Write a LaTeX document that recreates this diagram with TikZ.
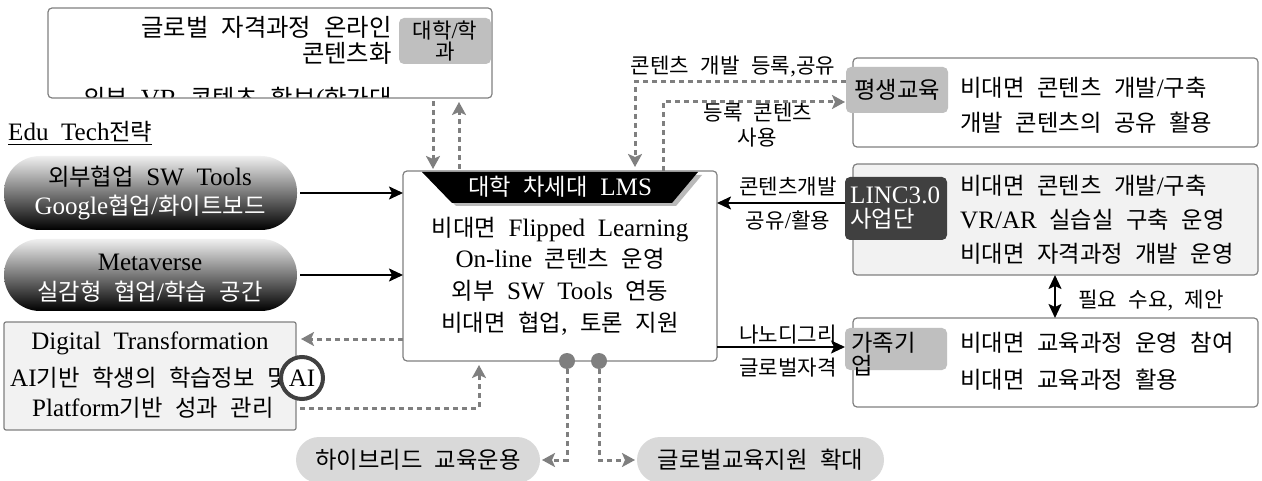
\documentclass[tikz,border=0pt]{standalone}
\usepackage{fontspec}
\setmainfont{Liberation Serif}[Scale=1.14,WordSpace=2.0]
\newfontfamily\kr{Noto Sans CJK KR}[Scale=1.06]
\usetikzlibrary{arrows.meta,calc}
\XeTeXinterchartokenstate=1
\newXeTeXintercharclass\HangulCls
\newcount\hcnt
\hcnt="AC00
\loop\XeTeXcharclass\hcnt=\HangulCls\relax\advance\hcnt by 1\relax\ifnum\hcnt<"D7A4\relax\repeat
\XeTeXinterchartoks 0 \HangulCls = {\kr}
\XeTeXinterchartoks 4095 \HangulCls = {\kr}
\XeTeXinterchartoks \HangulCls 0 = {\rmfamily}
\XeTeXinterchartoks \HangulCls 4095 = {\rmfamily}
\definecolor{bord}{HTML}{808080}
\definecolor{tagg}{HTML}{BFBFBF}
\definecolor{dotc}{HTML}{7F7F7F}
\definecolor{lgray}{HTML}{F2F2F2}
\definecolor{dark}{HTML}{404040}
\definecolor{pillg}{HTML}{D9D9D9}
\begin{document}
\begin{tikzpicture}[x=1pt,y=-1pt,
  box/.style={draw=bord, line width=1.2pt, rounded corners=4pt, inner sep=0pt, outer sep=0pt},
  tagbox/.style={fill=tagg, rounded corners=5pt, inner sep=0pt, outer sep=0pt},
  txt/.style={font=\fontsize{22}{32}\selectfont, inner sep=0pt},
  lab/.style={font=\fontsize{20}{24}\selectfont, inner sep=0pt},
  pill/.style={rounded corners=36pt, inner sep=0pt, outer sep=0pt},
  spill/.style={fill=pillg, rounded corners=23pt, inner sep=0pt, outer sep=0pt, minimum height=46pt, font=\fontsize{22}{26}\selectfont},
  dotarr/.style={draw=dotc, line width=3pt, dash pattern=on 5pt off 4pt, -{Stealth[length=13pt,width=14pt,inset=3pt]}},
  solarr/.style={draw=black, line width=2pt, -{Stealth[length=14pt,width=13pt,inset=3pt]}}
]
\useasboundingbox (0,0) rectangle (1262,481);

% ---- top box
\node[txt, anchor=east, font=\fontsize{23}{30}\selectfont] (t1) at (392,27) {글로벌 자격과정 온라인};
\node[txt, anchor=east, font=\fontsize{23}{30}\selectfont] (t2) at (392,53) {콘텐츠화};
\begin{scope}
\clip[rounded corners=4pt] (48,8) rectangle (492,98);
\node[txt, anchor=east, font=\fontsize{23}{30}\selectfont] (t3) at (392,100) {외부 VR 콘텐츠 확보(한가대};
\end{scope}
\node[box, minimum width=444pt, minimum height=90pt] (topbox) at (270,53) {};
\node[tagbox, minimum width=92pt, minimum height=46pt, align=center, font=\fontsize{20}{21}\selectfont] (tagU) at (445,41) {대학/학\\과};

% ---- Edu tech
\node[txt, anchor=west] (edu) at (8,133) {\underline{Edu Tech전략}};

% ---- LMS
\node[box, fill=white, minimum width=314pt, minimum height=190pt] (lms) at (560,266) {};
\fill[gray!55] (426,175) -- (702,175) -- (676,206) -- (456,206) -- cycle;
\fill[black] (422,172) -- (698,172) -- (672,203) -- (452,203) -- cycle;
\node[txt, text=white] (lmsh) at (560,187) {대학 차세대 LMS};
\node[txt, align=center, font=\fontsize{22}{31.7}\selectfont] (lmsb) at (560,276) {비대면 Flipped Learning\\On-line 콘텐츠 운영\\외부 SW Tools 연동\\비대면 협업, 토론 지원};
\node[circle, fill=dotc, minimum size=16pt, inner sep=0pt] (dA) at (567,361) {};
\node[circle, fill=dotc, minimum size=16pt, inner sep=0pt] (dB) at (599,361) {};

% ---- left pills
\node[pill, top color=gray!12, bottom color=black, minimum width=293pt, minimum height=74pt] (p1) at (150.5,193) {};
\node[txt] (p1a) at (150,177) {외부협업 SW Tools};
\node[txt, text=white] (p1b) at (150,207) {Google협업/화이트보드};
\node[pill, top color=gray!12, bottom color=black, minimum width=293pt, minimum height=72pt] (p2) at (150.5,275) {};
\node[txt] (p2a) at (150,262) {Metaverse};
\node[txt, text=white] (p2b) at (150,292) {실감형 협업/학습 공간};
\draw[solarr, shorten <=3pt] (p1.east) -- (p1.east -| lms.west);
\draw[solarr, shorten <=3pt] (p2.east) -- (p2.east -| lms.west);

% ---- top dotted
\coordinate (xa) at (433,0);
\coordinate (xb) at (459,0);
\draw[dotarr, shorten <=3pt, shorten >=2pt] (topbox.south -| xa) -- (lms.north -| xa);
\draw[dotarr, shorten <=2pt, shorten >=4pt] (lms.north -| xb) -- (topbox.south -| xb);

% ---- DT box
\node[box, fill=lgray, rounded corners=2pt, minimum width=292pt, minimum height=108pt] (dt) at (150,376) {};
\node[txt] (dt1) at (150,343) {Digital Transformation};
\node[txt, anchor=west] (dt2) at (10,378) {AI기반 학생의 학습정보 및};
\node[txt] (dt3) at (153,408) {Platform기반 성과 관리};
\node[txt, circle, draw=dark, line width=4pt, fill=white, minimum size=42pt, inner sep=0pt] (ai) at (302,378) {AI};
\coordinate (y1) at (0,339);
\draw[dotarr, shorten >=5pt] (lms.west |- y1) -- (dt.east |- y1);
\coordinate (y2) at (0,408);
\coordinate (x3) at (479,0);
\draw[dotarr, shorten <=4pt, shorten >=4pt] (dt.east |- y2) -| (lms.south -| x3);

% ---- bottom pills
\node[spill, minimum width=244pt] (hy) at (418,460) {하이브리드 교육운용};
\node[spill, minimum width=247pt] (gl) at (760.5,460) {글로벌교육지원 확대};
\draw[dotarr, shorten >=2pt] (dA.south) |- (hy.east);
\draw[dotarr, shorten >=2pt] (dB.south) |- (gl.west);

% ---- right: lifelong education
\node[box, fill=white, minimum width=405pt, minimum height=89pt] (pb) at (1055.5,102.5) {};
\node[tagbox, txt, minimum width=102pt, minimum height=46pt] (pt) at (897,90) {평생교육};
\node[txt, anchor=west, align=left, font=\fontsize{22}{35}\selectfont] (pbt) at (960,105.5) {비대면 콘텐츠 개발/구축\\개발 콘텐츠의 공유 활용};
\coordinate (y3) at (0,82);
\coordinate (x4) at (635,0);
\draw[dotarr, shorten >=4pt] (pt.west |- y3) -| (lms.north -| x4);
\coordinate (y4) at (0,102);
\coordinate (x5) at (663,0);
\draw[dotarr, shorten >=1pt] (lms.north -| x5) |- (pt.west |- y4);
\node[lab] (l1) at (733,66) {콘텐츠 개발 등록,공유};
\node[lab] (l2) at (758,113) {등록 콘텐츠};
\node[lab] (l3) at (757,138) {사용};

% ---- right: LINC
\node[box, fill=lgray, minimum width=405pt, minimum height=111pt] (lb) at (1055.5,219.5) {};
\node[tagbox, fill=dark, minimum width=102pt, minimum height=63pt] (lt) at (896,208.5) {};
\node[txt, text=white, anchor=west, align=left, font=\fontsize{22}{24}\selectfont] (ltt) at (850,208) {LINC3.0\\사업단};
\node[txt, anchor=west, align=left, font=\fontsize{22}{34}\selectfont] (lbt) at (960,220) {비대면 콘텐츠 개발/구축\\VR/AR 실습실 구축 운영\\비대면 자격과정 개발 운영};
\coordinate (ya) at (0,203);
\draw[solarr] (lt.west |- ya) -- (lms.east |- ya);
\node[lab] (la1) at (788,187) {콘텐츠개발};
\node[lab] (la2) at (788,220) {공유/활용};

% ---- right: family company
\node[box, fill=white, minimum width=405pt, minimum height=89pt] (fb) at (1055.5,362.5) {};
\node[tagbox, minimum width=102pt, minimum height=42pt] (ft) at (896,349) {};
\node[txt, anchor=west, align=left, font=\fontsize{22}{23}\selectfont] (ftt) at (851,354) {가족기\\업};
\node[txt, anchor=west, align=left, font=\fontsize{22}{37}\selectfont] (fbt) at (960,361.5) {비대면 교육과정 운영 참여\\비대면 교육과정 활용};
\coordinate (yb) at (0,347);
\draw[solarr] (lms.east |- yb) -- (ft.west |- yb);
\node[lab] (lb1) at (788,335) {나노디그리};
\node[lab] (lb2) at (788,368) {글로벌자격};
\coordinate (xc) at (1055,0);
\draw[solarr, {Stealth[length=14pt,width=13pt,inset=3pt]}-{Stealth[length=14pt,width=13pt,inset=3pt]}] (lb.south -| xc) -- (fb.north -| xc);
\node[lab, anchor=west] (lc) at (1078,300) {필요 수요, 제안};
\end{tikzpicture}
\end{document}
